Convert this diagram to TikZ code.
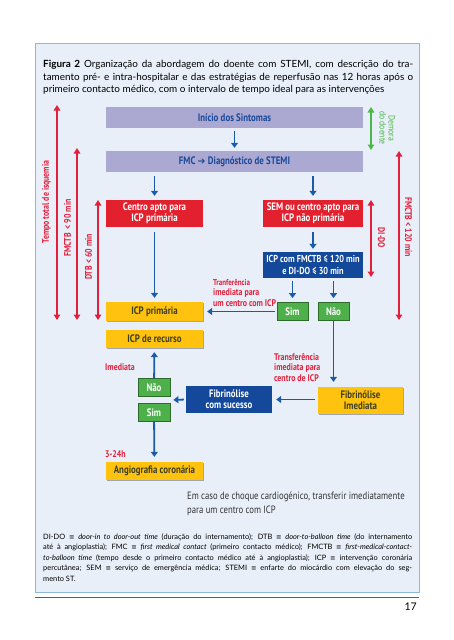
\documentclass[tikz,border=0pt]{standalone}
\usepackage{fontspec}
\setmainfont{Lato}
\newfontfamily\boxfont[FakeStretch=0.82]{PT Sans}
\newfontfamily\djv{DejaVu Sans}
\usetikzlibrary{arrows.meta,shadows}
\definecolor{panelfill}{HTML}{E8EFF8}
\definecolor{panelline}{HTML}{8DB8DC}
\definecolor{rulecol}{HTML}{2F6F7A}
\definecolor{lav}{HTML}{ABA8D2}
\definecolor{darkblue}{HTML}{1B4A9A}
\definecolor{boxred}{HTML}{E2202E}
\definecolor{boxblue}{HTML}{13489A}
\definecolor{boxgreen}{HTML}{4DB04A}
\definecolor{greenline}{HTML}{2E6B2A}
\definecolor{boxyellow}{HTML}{FFC20E}
\definecolor{yellowtext}{HTML}{3D3F22}
\definecolor{arrowblue}{HTML}{1A5AA6}
\definecolor{labred}{HTML}{E3203C}
\definecolor{labgreen}{HTML}{4CB848}
\definecolor{notegray}{HTML}{333333}
\newcommand{\eqvsym}{{\djv\fontsize{6.5}{7}\selectfont ≡}}
\begin{document}
\begin{tikzpicture}[x=1pt,y=-1pt,
  bx/.style={minimum width=#1, inner sep=0pt, align=center,
    font=\boxfont\bfseries\fontsize{10.8}{11.2}\selectfont},
  lavbox/.style={bx=257pt, fill=lav, text=darkblue, minimum height=21pt},
  redbox/.style={bx=97pt, fill=boxred, text=white, minimum height=27pt},
  bluebox/.style={bx=#1, fill=boxblue, text=white, minimum height=26pt},
  greenbox/.style={bx=31pt, fill=boxgreen, draw=greenline, line width=0.8pt, text=white, minimum height=18pt},
  yelbox/.style={bx=#1, fill=boxyellow, text=yellowtext, minimum height=18pt,
    drop shadow={shadow xshift=1.2pt, shadow yshift=-1.2pt, opacity=0.3, fill=black}},
  flow/.style={draw=arrowblue, line width=1.8pt, -{Triangle[width=7pt,length=5pt]}},
  span/.style={draw=labred, line width=1.5pt, {Triangle[width=6.5pt,length=5.5pt]}-{Triangle[width=6.5pt,length=5.5pt]}},
  redlab/.style={text=labred, inner sep=0pt, align=left, font=\boxfont\bfseries\fontsize{9.6}{10.5}\selectfont},
  capline/.style={anchor=west, inner sep=0pt, font=\fontsize{9.9}{11}\selectfont},
  footline/.style={anchor=west, inner sep=0pt, font=\fontsize{7.4}{8}\selectfont}
]
\useasboundingbox (0,0) rectangle (454,640);
\fill[white] (0,0) rectangle (454,640);
% panel
\draw[panelline, fill=panelfill, line width=1pt] (35,43) rectangle (419,592);
\draw[rulecol, line width=0.9pt] (35,597.5) -- (419,597.5);
\node[anchor=east, inner sep=0pt, font=\fontsize{10.5}{12}\selectfont] (pg) at (417,607) {17};

% caption
\node[capline] (cap1) at (43,65) {\makebox[370pt][s]{\textbf{Figura 2} Organização da abordagem do doente com STEMI, com descrição do tra-}};
\node[capline] (cap2) at (43,77.5) {\makebox[370pt][s]{tamento pré- e intra-hospitalar e das estratégias de reperfusão nas 12 horas após o}};
\node[capline] (cap3) at (43,89.5) {primeiro contacto médico, com o intervalo de tempo ideal para as intervenções};

% boxes
\node[lavbox] (inicio) at (234.5,117.5) {Início dos Sintomas};
\node[lavbox] (fmc) at (234.5,161.5) {FMC {\djv\fontsize{9.5}{10}\selectfont ➔} Diagnóstico de STEMI};
\node[redbox] (centro) at (154.5,213.5) {Centro apto para\\ICP primária};
\node[redbox, minimum width=100pt] (sem) at (313,213.5) {SEM ou centro apto para\\ICP não primária};
\node[bluebox=100pt, font=\boxfont\bfseries\fontsize{10.1}{11.2}\selectfont] (icpcom) at (313,265) {ICP com FMCTB ≤ 120 min\\e DI-DO ≤ 30 min};
\node[greenbox] (sim1) at (292.5,311.5) {Sim};
\node[greenbox] (nao1) at (333.5,311.5) {Não};
\node[yelbox=97pt, minimum height=19pt] (icpprim) at (154.5,311.5) {ICP primária};
\node[yelbox=97pt] (recurso) at (154.5,339) {ICP de recurso};
\node[yelbox=85pt, minimum height=27pt] (fibimed) at (360.5,400.5) {Fibrinólise\\Imediata};
\node[bluebox=86pt, minimum height=27pt] (fibsuc) at (229,399.5) {Fibrinólise\\com sucesso};
\node[greenbox, minimum width=32pt] (nao2) at (154,387.5) {Não};
\node[greenbox, minimum width=32pt] (sim2) at (154,412.5) {Sim};
\node[yelbox=97pt] (angio) at (154.5,471) {Angiografia coronária};

% flow arrows
\draw[flow, shorten <=3pt, shorten >=3pt] (inicio) -- (fmc);
\draw[flow, shorten <=4pt, shorten >=4pt] (fmc.south -| centro) -- (centro.north);
\draw[flow, shorten <=4pt, shorten >=4pt] (fmc.south -| sem) -- (sem.north);
\draw[flow, shorten <=5pt, shorten >=4pt] (centro) -- (icpprim);
\draw[flow, shorten <=5pt, shorten >=3pt] (sem) -- (icpcom);
\draw[flow, shorten <=3pt, shorten >=4pt] (icpcom.south -| sim1) -- (sim1.north);
\draw[flow, shorten <=3pt, shorten >=4pt] (icpcom.south -| nao1) -- (nao1.north);
\draw[flow, shorten <=2pt, shorten >=4pt] (sim1) -- (icpprim);
\draw[flow, shorten >=5pt] (nao1) -- (fibimed.north -| nao1);
\draw[flow, shorten <=3pt, shorten >=4pt] (fibimed.west |- fibsuc) -- (fibsuc.east);
\coordinate (ns) at (154,400);
\draw[flow, shorten <=2pt, shorten >=3pt] (fibsuc.west) -- (ns -| nao2.east);
\draw[flow, shorten >=4pt] (nao2) -- (recurso);
\draw[flow, shorten >=5pt] (sim2) -- (angio);

% red labels
\node[redlab, anchor=west] (lab1) at (213,292.5) {\fontsize{8.5}{10}\selectfont Tranferência\\imediata para\\um centro com ICP};
\node[redlab, anchor=west] (lab2) at (274,367.5) {Transferência\\imediata para\\centro de ICP};
\node[redlab, anchor=west] (lab3) at (105,367) {Imediata};
\node[redlab, anchor=west] (lab4) at (105,454) {3-24h};

% note
\node[anchor=west, inner sep=0pt, align=left, text=notegray, font=\boxfont\fontsize{10.6}{14}\selectfont] (note) at (187,504)
  {Em caso de choque cardiogénico, transferir imediatamente\\para um centro com ICP};

% side spans
\coordinate (t1) at (57,105); \coordinate (t2) at (57,320);
\coordinate (f1) at (77,148); \coordinate (f2) at (77,320);
\coordinate (d1) at (98,200); \coordinate (d2) at (98,320);
\coordinate (g1) at (371,107); \coordinate (g2) at (371,150);
\coordinate (o1) at (371,200); \coordinate (o2) at (371,277);
\coordinate (r1) at (399,151); \coordinate (r2) at (399,320);
\draw[span] (t1) -- (t2);
\draw[span] (f1) -- (f2);
\draw[span] (d1) -- (d2);
\draw[span] (o1) -- (o2);
\draw[span] (r1) -- (r2);
\draw[span, draw=labgreen] (g1) -- (g2);
\node[redlab, rotate=90] (tl) at (46.5,202) {Tempo total de isquemia};
\node[redlab, rotate=90] (fl) at (67.5,228) {FMCTB\ \ < 90 min};
\node[redlab, rotate=90] (dl) at (88.5,257) {DTB < 60 min};
\node[redlab, rotate=-90] (ol) at (381.5,238) {DI-DO};
\node[redlab, rotate=-90] (rl) at (408.5,227) {FMCTB < 120 min};
\node[rotate=-90, inner sep=0pt, align=center, text=labgreen, font=\boxfont\fontsize{9.4}{9}\selectfont] (gl) at (387.5,128) {Demora\\do doente};

% footnote
\node[footline] (fn1) at (43,537) {\makebox[369pt][s]{DI-DO \eqvsym{} \textit{door-in to door-out time} (duração do internamento); DTB \eqvsym{} \textit{door-to-balloon time} (do internamento}};
\node[footline] (fn2) at (43,547.5) {\makebox[369pt][s]{até à angioplastia); FMC \eqvsym{} \textit{first medical contact} (primeiro contacto médico); FMCTB \eqvsym{} \textit{first-medical-contact-}}};
\node[footline] (fn3) at (43,558) {\makebox[369pt][s]{\textit{to-balloon time} (tempo desde o primeiro contacto médico até à angioplastia); ICP \eqvsym{} intervenção coronária}};
\node[footline] (fn4) at (43,568.5) {\makebox[369pt][s]{percutânea; SEM \eqvsym{} serviço de emergência médica; STEMI \eqvsym{} enfarte do miocárdio com elevação do seg-}};
\node[footline] (fn5) at (43,579) {mento ST.};
\end{tikzpicture}
\end{document}
